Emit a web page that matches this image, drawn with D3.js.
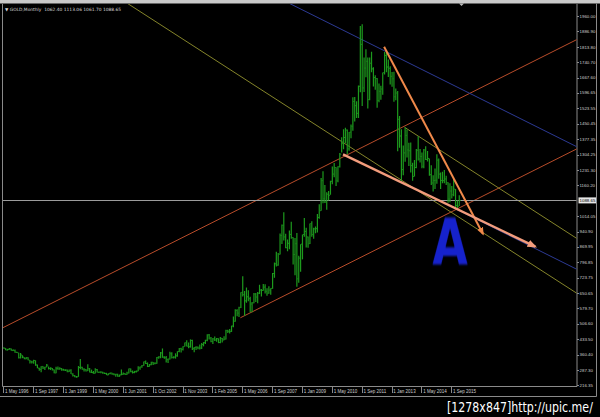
<!DOCTYPE html>
<html>
<head>
<meta charset="utf-8">
<script src="https://cdn.jsdelivr.net/npm/d3@7"></script>
<style>
  html, body { margin: 0; padding: 0; background: #000; overflow: hidden; }
  svg { display: block; }
</style>
</head>
<body>
<div id="chart"></div>
<script>
// GOLD monthly bars, May 1996 .. Jan 2016, in bar order (the feed has a few extra bars before 2006)
const highs = [
  395,391,387,391,389,385,384,374,
  369,368,357,348,349,348,335,331,336,333,313,298,
  305,305,302,315,304,300,297,290,302,304,300,297,
  293,291,290,290,291,272,264,259,306,339,302,295,
  292,314,297,289,282,
  295,292,280,281,279,275,274,272,276,274,272,270,269,266,290,
  275,272,279,294,294,285,283,285,305,304,311,327,332,323,315,326,
  325,324,349,352,372,389,352,353,341,374,371,352,366,376,391,392,
  400,417,428,417,432,430,396,400,398,408,415,419,430,456,457,443,
  438,446,439,437,443,438,447,477,478,481,497,540,574,574,586,655,
  730,660,677,664,633,609,651,651,656,690,670,694,692,673,683,674,
  745,795,846,840,932,975,1033,931,904,946,988,914,911,935,827,881,
  928,1006,960,918,980,990,960,965,1024,1070,1195,1226,1162,1127,1133,1181,
  1249,1265,1245,1250,1313,1387,1425,1432,1424,1412,1447,1576,1577,1557,1632,1913,
  1921,1764,1803,1764,1764,1791,1718,1680,1667,1641,1630,1693,1790,1796,1755,1723,
  1695,1697,1617,1606,1487,1425,1348,1434,1424,1361,1362,1267,1280,1332,1392,1331,
  1315,1332,1345,1322,1287,1255,1208,1239,1307,1287,1220,1224,1232,1205,1175,1170,
  1157,1191,1143,1088,1113.06
];
const lows = [
  388,380,379,383,378,377,369,367,
  342,341,343,338,338,333,318,318,317,307,295,284,
  277,292,287,300,290,287,285,272,272,288,289,284,
  284,282,277,278,268,257,253,251,255,291,288,280,
  280,282,276,273,270,
  271,275,273,272,269,268,263,263,267,265,262,255,255,255,262,
  265,264,265,271,277,271,272,276,281,289,298,307,316,301,302,310,
  311,314,317,340,343,345,340,323,320,337,342,341,341,350,371,370,
  379,398,398,390,393,382,371,382,385,384,387,399,410,423,431,418,
  410,424,421,414,414,417,428,431,462,460,467,489,515,541,538,580,
  635,543,605,612,560,560,603,609,603,646,635,662,649,638,647,643,
  671,723,776,780,833,883,899,862,848,858,908,786,735,681,700,752,
  810,917,866,865,883,917,908,933,937,1002,1040,1075,1076,1045,1088,1115,
  1165,1198,1157,1175,1244,1315,1330,1360,1308,1323,1382,1418,1462,1478,1478,1600,
  1535,1601,1670,1523,1562,1694,1627,1612,1527,1553,1564,1588,1684,1694,1672,1636,
  1626,1555,1562,1321,1338,1180,1207,1271,1291,1251,1221,1182,1202,1240,1277,1268,
  1240,1240,1280,1273,1205,1161,1131,1142,1167,1191,1142,1170,1170,1162,1077,1080,
  1098,1108,1052,1046,1061.70
];
const closes = [
  390,382,385,387,379,379,371,369,
  345,358,348,340,345,334,326,325,332,311,296,290,
  304,297,301,310,294,296,288,273,294,292,294,288,
  287,287,279,286,268,261,255,255,299,300,291,290,
  283,293,277,275,272,
  289,276,277,277,273,271,264,270,273,268,265,267,258,264,267,
  270,266,273,293,279,275,279,282,297,302,308,326,318,304,312,324,
  317,318,347,349,368,348,345,336,339,364,346,348,354,375,388,384,
  398,416,400,397,427,388,394,395,391,391,408,416,428,453,438,422,
  434,429,435,417,437,429,433,473,470,470,495,518,569,556,582,654,
  643,614,633,624,599,604,646,632,650,665,663,679,659,650,665,673,
  743,789,783,834,923,971,916,865,886,928,913,833,884,718,816,882,
  927,942,916,884,979,927,954,955,1008,1040,1182,1096,1081,1118,1113,1179,
  1213,1244,1181,1248,1307,1357,1386,1421,1332,1411,1439,1556,1536,1500,1628,1826,
  1620,1714,1746,1565,1737,1710,1669,1664,1561,1604,1615,1692,1773,1719,1713,1675,
  1663,1578,1596,1472,1393,1234,1313,1396,1327,1323,1253,1202,1244,1326,1284,1296,
  1250,1327,1282,1287,1210,1171,1183,1184,1279,1213,1183,1182,1190,1172,1095,1133,
  1115,1142,1065,1061,1088.65
];

// time axis labels, one every 16 bars
const dateLabels = [
  '1 May 1996', '1 Sep 1997', '1 Jan 1999', '1 May 2000', '1 Jun 2001', '1 Oct 2002',
  '1 Nov 2003', '1 Feb 2005', '1 May 2006', '1 Sep 2007', '1 Jan 2009', '1 May 2010',
  '1 Sep 2011', '1 Jan 2013', '1 May 2014', '1 Sep 2015'
];
const labelStep = 16;

// price scale labels as printed by the terminal
const priceLabels = [
  '1960.00', '1886.90', '1813.80', '1740.70', '1667.60', '1596.65', '1523.55', '1450.45',
  '1377.35', '1304.25', '1231.30', '1160.20', '1014.05', '940.90', '869.95', '796.85',
  '723.75', '650.65', '579.70', '506.60', '433.50', '360.40', '287.30', '216.35'
];
const lastPrice = 1088.65;
const header = 'GOLD,Monthly  1062.40 1113.06 1061.70 1088.65';

// drawn objects, anchored as [bar, price]
const trendLines = [
  { a: [0, 488], b: [182, 1294], color: '#b84c2a', both: true },    // upper channel
  { a: [127, 534], b: [307, 1331], color: '#b84c2a', both: false }, // lower channel
  { a: [100, 1829], b: [200, 1260], color: '#84842a', both: true },  // long falling line
  { a: [215, 1434], b: [300, 950], color: '#84842a', both: false },  // parallel from 2013 high
  { a: [200, 1814], b: [300, 1374], color: '#2c3a94', both: true },  // upper blue
  { a: [243, 1046], b: [300, 795], color: '#2c3a94', both: false }   // lower blue
];
const arrows = [
  { a: [204, 1815], b: [257, 930], color: '#f0894a', width: 2 },
  { a: [182, 1306], b: [285, 870], color: '#f29c7c', width: 2.4 }
];
const letterMark = { text: 'A', bar: 239.3, price: 783 };
const watermark = '[1278x847]http://upic.me/';

const W = 600, H = 417;
const plot = { left: 2.5, right: 577, top: 4, bottom: 386.5 };

const svg = d3.select('#chart')
  .append('svg')
  .attr('width', W)
  .attr('height', H)
  .style('background', '#000');

const x = d3.scaleLinear().domain([0, 240]).range([3.3, 451.3]);
const y = d3.scaleLinear().domain([216.35, 1960]).range([385, 16]);

// top strip of the window
svg.append('rect')
  .attr('x', 0).attr('y', 0).attr('width', W).attr('height', 3.5)
  .attr('fill', '#c9c9c9');
svg.append('path')
  .attr('d', 'M459,3.5 L464,3.5 L461.5,6 Z')
  .attr('fill', '#bbb');

// outer frame
svg.append('path')
  .attr('d', `M0,396.5 H596.5 V3.5`)
  .attr('fill', 'none')
  .attr('stroke', '#8a8a8a')
  .attr('stroke-width', 1);

// plot border + axes lines
svg.append('path')
  .attr('d', `M${plot.left},${plot.top} V${plot.bottom} H${plot.right} V${plot.top}`)
  .attr('fill', 'none')
  .attr('stroke', '#8a8a8a')
  .attr('stroke-width', 1);

svg.append('defs').append('clipPath')
  .attr('id', 'plotClip')
  .append('rect')
  .attr('x', plot.left + 0.5).attr('y', plot.top)
  .attr('width', plot.right - plot.left - 1).attr('height', plot.bottom - plot.top - 0.5);

const g = svg.append('g').attr('clip-path', 'url(#plotClip)');

// extend a line to the borders of the plot
const xMin = x.invert(plot.left), xMax = x.invert(plot.right);
function extended(l) {
  const slope = (l.b[1] - l.a[1]) / (l.b[0] - l.a[0]);
  const i0 = l.both ? xMin : l.a[0];
  const i1 = xMax;
  return [[i0, l.a[1] + slope * (i0 - l.a[0])], [i1, l.a[1] + slope * (i1 - l.a[0])]];
}

g.selectAll('line.trend')
  .data(trendLines)
  .enter()
  .append('line')
  .attr('class', 'trend')
  .each(function (d) {
    const p = extended(d);
    d3.select(this)
      .attr('x1', x(p[0][0])).attr('y1', y(p[0][1]))
      .attr('x2', x(p[1][0])).attr('y2', y(p[1][1]));
  })
  .attr('stroke', d => d.color)
  .attr('stroke-width', 1);

// current price line
g.append('line')
  .attr('x1', plot.left).attr('x2', plot.right)
  .attr('y1', Math.round(y(lastPrice)) + 0.5).attr('y2', Math.round(y(lastPrice)) + 0.5)
  .attr('stroke', '#9c9c9c')
  .attr('stroke-width', 1);

// bars (high-low stem plus close tick)
const bars = d3.range(highs.length);
const barColor = '#1d9a1d';
g.selectAll('line.bar')
  .data(bars)
  .enter()
  .append('line')
  .attr('class', 'bar')
  .attr('x1', i => x(i) + 0.5)
  .attr('x2', i => x(i) + 0.5)
  .attr('y1', i => y(highs[i]))
  .attr('y2', i => y(lows[i]))
  .attr('stroke', barColor)
  .attr('stroke-width', 1.2);

g.selectAll('line.close')
  .data(bars)
  .enter()
  .append('line')
  .attr('class', 'close')
  .attr('x1', i => x(i) + 1)
  .attr('x2', i => x(i) + 2)
  .attr('y1', i => y(closes[i]))
  .attr('y2', i => y(closes[i]))
  .attr('stroke', barColor)
  .attr('stroke-width', 1);

// arrows
const defs = svg.select('defs');
arrows.forEach((a, k) => {
  defs.append('marker')
    .attr('id', 'head' + k)
    .attr('viewBox', '0 0 10 10')
    .attr('refX', 8).attr('refY', 5)
    .attr('markerWidth', 4).attr('markerHeight', 4)
    .attr('orient', 'auto')
    .append('path')
    .attr('d', 'M0,1 L10,5 L0,9 Z')
    .attr('fill', a.color);
});
g.selectAll('line.arrow')
  .data(arrows)
  .enter()
  .append('line')
  .attr('class', 'arrow')
  .attr('x1', d => x(d.a[0])).attr('y1', d => y(d.a[1]))
  .attr('x2', d => x(d.b[0])).attr('y2', d => y(d.b[1]))
  .attr('stroke', d => d.color)
  .attr('stroke-width', d => d.width)
  .attr('marker-end', (d, k) => `url(#head${k})`);

// hand written "A"
defs.append('filter').attr('id', 'soft')
  .append('feGaussianBlur').attr('stdDeviation', 0.8);
svg.append('text')
  .attr('transform', `translate(${x(letterMark.bar)},${y(letterMark.price)}) scale(0.72,1)`)
  .attr('text-anchor', 'middle')
  .attr('font-family', 'DejaVu Sans')
  .attr('font-weight', 'bold')
  .attr('font-size', 64)
  .attr('fill', '#1622cc')
  .attr('filter', 'url(#soft)')
  .text(letterMark.text);

// price axis
const pTicks = priceLabels.map(s => ({ s, v: +s }));
const pAxis = svg.append('g').attr('font-family', 'Liberation Sans, Arial, sans-serif')
  .attr('font-size', 4.4).attr('fill', '#cfcfcf');
pAxis.selectAll('line')
  .data(pTicks)
  .enter()
  .append('line')
  .attr('x1', plot.right).attr('x2', plot.right + 2)
  .attr('y1', d => Math.round(y(d.v)) + 0.5).attr('y2', d => Math.round(y(d.v)) + 0.5)
  .attr('stroke', '#8a8a8a');
pAxis.selectAll('text')
  .data(pTicks)
  .enter()
  .append('text')
  .attr('x', plot.right + 2.5)
  .attr('y', d => y(d.v) + 1.6)
  .text(d => d.s);

// last price box
svg.append('rect')
  .attr('x', plot.right + 1.5).attr('y', y(lastPrice) - 3)
  .attr('width', 17.5).attr('height', 6)
  .attr('fill', '#e6e6e6');
svg.append('text')
  .attr('x', plot.right + 2.5).attr('y', y(lastPrice) + 1.6)
  .attr('font-family', 'Liberation Sans, Arial, sans-serif')
  .attr('font-size', 4.4).attr('fill', '#000')
  .text(lastPrice.toFixed(2));

// time axis
const tAxis = svg.append('g').attr('font-family', 'Liberation Sans, Arial, sans-serif')
  .attr('font-size', 4.5).attr('fill', '#cfcfcf');
tAxis.selectAll('line')
  .data(dateLabels)
  .enter()
  .append('line')
  .attr('x1', (d, k) => Math.round(x(k * labelStep)) + 0.5)
  .attr('x2', (d, k) => Math.round(x(k * labelStep)) + 0.5)
  .attr('y1', plot.bottom).attr('y2', 393)
  .attr('stroke', '#8a8a8a');
tAxis.selectAll('text')
  .data(dateLabels)
  .enter()
  .append('text')
  .attr('x', (d, k) => x(k * labelStep) + 1.8)
  .attr('y', 392.5)
  .text(d => d);

// header
svg.append('text')
  .attr('x', 5).attr('y', 11)
  .attr('font-family', 'DejaVu Sans, sans-serif')
  .attr('font-size', 4.4).attr('fill', '#d8d8d8')
  .attr('xml:space', 'preserve')
  .text('\u25BC ' + header);

// image host stamp, squeezed to the reference width
const stamp = svg.append('text')
  .attr('font-family', 'DejaVu Sans, sans-serif')
  .attr('font-size', 14)
  .attr('fill', '#fff')
  .text(watermark);
const natural = stamp.node().getComputedTextLength();
stamp.attr('transform', `translate(447,412) scale(${146 / natural},1)`);
</script>
</body>
</html>
